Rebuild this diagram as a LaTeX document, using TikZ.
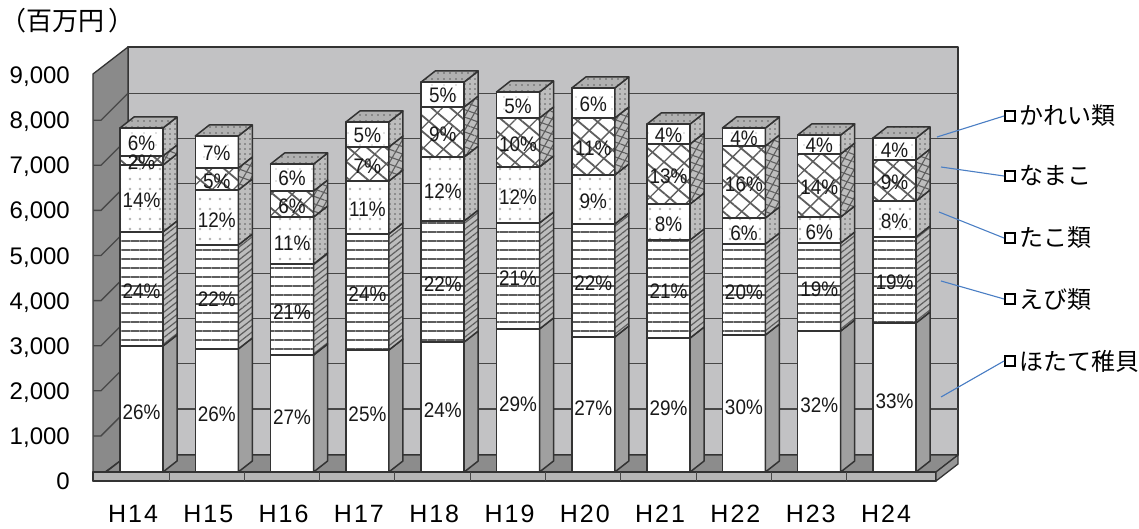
\documentclass[tikz,border=0pt]{standalone}
\usepackage{fontspec}
\setmainfont{Liberation Sans}
\newfontfamily\jpfont{Noto Sans CJK JP}
\newfontfamily\pctfont[FakeStretch=0.9]{Liberation Sans}
\newfontfamily\xfont[LetterSpace=8]{Liberation Sans}
\usetikzlibrary{patterns.meta}
\definecolor{wallc}{HTML}{C2C2C4}
\definecolor{sidewall}{HTML}{8A8A8A}
\definecolor{floorc}{HTML}{8C8C8C}
\definecolor{stripc}{HTML}{B6B6B6}
\definecolor{edgec}{HTML}{333333}
\definecolor{sidec}{HTML}{A0A0A0}
\definecolor{topc}{HTML}{B0B0B0}
\definecolor{patc}{HTML}{5E5E5E}
\definecolor{leaderc}{HTML}{4A7EC4}
\newcommand\drawseg[4]{%
  \path[seg,#3] (\barL,#1) rectangle (\barR,#2);
  \path[seg,#4] (\barR,#1) -- ({\barR+14},{#1-11}) -- ({\barR+14},{#2-11}) -- (\barR,#2) -- cycle;}
\begin{document}
\begin{tikzpicture}[x=1pt,y=-1pt,
  seg/.style={draw=edgec, line width=1.5pt, line join=round},
  wall/.style={draw=edgec, line width=1.3pt, line join=round},
  grid/.style={draw=edgec!90, line width=1.3pt},
  fW/.style={fill=white},
  sW/.style={fill=sidec},
  fS/.style={preaction={fill=white}, pattern={Lines[angle=0,distance=9pt,line width=2.6pt]}, pattern color=patc},
  sS/.style={preaction={fill=sidec!70!white}, pattern={Lines[angle=38,distance=5pt,line width=1.2pt]}, pattern color=patc},
  fD/.style={preaction={fill=white}, pattern={Dots[distance=10pt,radius=1.3pt]}, pattern color=gray!60},
  sD/.style={preaction={fill=sidec!70!white}, pattern={Dots[distance=5pt,radius=0.9pt]}, pattern color=patc},
  fN/.style={preaction={fill=white}, preaction={pattern={Lines[angle=-40,distance=12pt,line width=1.8pt]}, pattern color=patc}, pattern={Lines[angle=45,distance=15pt,line width=1.3pt]}, pattern color=patc},
  sN/.style={preaction={fill=sidec!70!white}, preaction={pattern={Lines[angle=-20,distance=7pt,line width=1.1pt]}, pattern color=patc}, pattern={Lines[angle=60,distance=7pt,line width=1.1pt]}, pattern color=patc},
  fK/.style={preaction={fill=white}, pattern={Dots[distance=12pt,radius=0.8pt]}, pattern color=gray!45},
  sK/.style={preaction={fill=sidec!70!white}, pattern={Dots[distance=5pt,radius=0.8pt]}, pattern color=patc},
  tp/.style={preaction={fill=topc}, pattern={Dots[distance=6pt,radius=0.9pt]}, pattern color=patc},
  pct/.style={font=\pctfont\fontsize{21}{21}\selectfont, inner sep=0pt, text height=15pt, text depth=0pt, text=black!90},
  ylab/.style={font=\fontsize{24}{24}\selectfont, inner sep=0pt, text height=17pt, text depth=0pt, anchor=east},
  xlab/.style={font=\xfont\fontsize{25}{25}\selectfont, inner sep=0pt, text height=18pt, text depth=0pt},
  ltext/.style={font=\jpfont\fontsize{24}{24}\selectfont, inner sep=0pt, text height=21pt, text depth=3pt, anchor=west},
  lsq/.style={draw=black, line width=2pt, minimum size=10pt, inner sep=0pt},
  leader/.style={draw=leaderc, line width=1.1pt}]
\useasboundingbox (0,0) rectangle (1139,529);
\fill[white] (0,0) rectangle (1139,529);
% back wall
\path[wall, fill=wallc] (128,47) rectangle (958,455);
\foreach \k in {1,...,8}{\draw[grid] (128,{454-45.1*\k}) -- (958,{454-45.1*\k});}
% left wall
\path[wall, fill=sidewall] (93,74) -- (128,47) -- (128,455) -- (93,481) -- cycle;
\foreach \k in {1,...,8}{\draw[grid] (93,{481-45.1*\k}) -- (101,{481-45.1*\k}) -- (128,{454-45.1*\k});}
% floor
\path[wall, fill=floorc] (106,472) -- (128,455) -- (958,455) -- (936,472) -- cycle;
\path[wall, fill=stripc] (93,472) rectangle (936,481);
\path[wall, fill=floorc!90!white] (936,472) -- (958,455) -- (958,464) -- (936,481) -- cycle;
\foreach \k in {0,...,9}{\draw[grid, line width=1pt] ({169+75.3*\k},472) -- ({169+75.3*\k},481);}
% bars
\foreach \i/\ya/\yb/\yc/\yd/\ye/\pa/\pb/\pc/\pd/\pe in {
0/346/232/165/156/128/26/24/14/2/6,
1/349/245/190/168/136/26/22/12/5/7,
2/355/264/217/191/164/27/21/11/6/6,
3/350/234/181/147/122/25/24/11/7/5,
4/342/221/157/107/82/24/22/12/9/5,
5/329/223/167/118/92/29/21/12/10/5,
6/337/224/175/118/88/27/22/9/11/6,
7/338/240/204/144/124/29/21/8/13/4,
8/335/244/218/146/128/30/20/6/16/4,
9/331/243/217/154/135/32/19/6/14/4,
10/323/237/201/160/138/33/19/8/9/4}{
  \pgfmathsetmacro\barL{120+75.3*\i}
  \pgfmathsetmacro\barR{\barL+43}
  \pgfmathsetmacro\barC{\barL+21.5}
  \pgfmathtruncatemacro\yr{14+\i}
  \drawseg{472}{\ya}{fW}{sW}
  \drawseg{\ya}{\yb}{fS}{sS}
  \drawseg{\yb}{\yc}{fD}{sD}
  \drawseg{\yc}{\yd}{fN}{sN}
  \drawseg{\yd}{\ye}{fK}{sK}
  \path[seg,tp] (\barL,\ye) -- ({\barL+14},{\ye-11}) -- ({\barR+14},{\ye-11}) -- (\barR,\ye) -- cycle;
  \node[pct] (pa\i) at (\barC,{(472+\ya)/2+3}) {\pa\%};
  \node[pct] (pb\i) at (\barC,{(\ya+\yb)/2+2}) {\pb\%};
  \node[pct] (pc\i) at (\barC,{(\yb+\yc)/2+2}) {\pc\%};
  \node[pct] (pd\i) at (\barC,{(\yc+\yd)/2+2}) {\pd\%};
  \node[pct] (pe\i) at (\barC,{(\yd+\ye)/2+1}) {\pe\%};
  \node[xlab] (x\i) at ({133+75.3*\i},513) {H\yr};
}
% y axis labels
\foreach \k/\t in {0/0,1/{1,000},2/{2,000},3/{3,000},4/{4,000},5/{5,000},6/{6,000},7/{7,000},8/{8,000},9/{9,000}}{
  \node[ylab] (y\k) at (70,{481-45.1*\k}) {\t};}
\node[font=\jpfont\fontsize{26}{26}\selectfont, inner sep=0pt, text height=23pt, text depth=3pt, anchor=west] (unit) at (0,21) {（百万円\hspace{4pt}）};
% legend
\foreach \n/\y/\t/\ex/\ey in {1/116/かれい類/937/137, 2/176/なまこ/941/167, 3/238/たこ類/939/212, 4/299/えび類/941/281, 5/361/ほたて稚貝/941/397}{
  \node[lsq] (sq\n) at (1010,\y) {};
  \node[ltext] (lt\n) at (1019,\y) {\t};
  \coordinate (e\n) at (\ex,\ey);
  \draw[leader] (sq\n.west) -- (e\n);
}
\end{tikzpicture}
\end{document}
